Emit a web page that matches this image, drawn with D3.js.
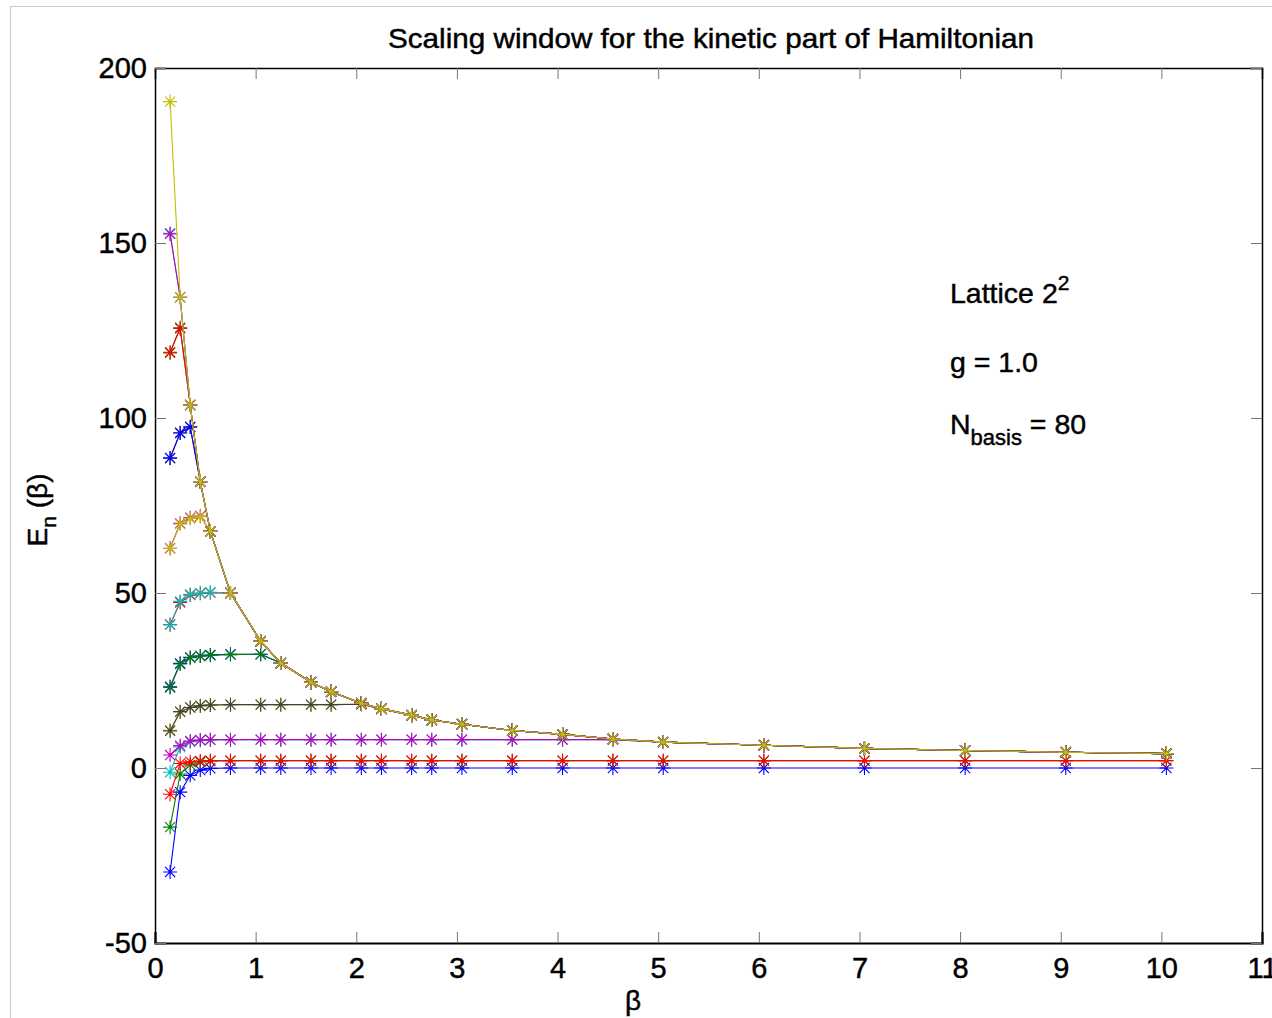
<!DOCTYPE html>
<html lang="en">
<head>
  <meta charset="utf-8">
  <title>Scaling window</title>
  <script src="https://d3js.org/d3.v7.min.js"></script>
  <style>
    body { margin: 0; background: #fff; }
    text { font-family: "Liberation Sans", Arial, Helvetica, sans-serif; fill: #000; stroke: #000; stroke-width: 0.45px; }
  </style>
</head>
<body>
<svg id="chart" width="1272" height="1018"></svg>
<script>
// beta grid (x values)
var beta = [0.15, 0.25, 0.35, 0.45, 0.55, 0.75, 1.05, 1.25, 1.55, 1.75, 2.05, 2.25,
            2.55, 2.75, 3.05, 3.55, 4.05, 4.55, 5.05, 6.05, 7.05, 8.05, 9.05, 10.05];

// the window edge: every level above it sits on it
var cutoff = [190.4, 134.5, 103.7, 81.8, 67.6, 50.0, 36.2, 30.0, 24.5, 21.8, 18.5, 16.9,
              15.1, 13.7, 12.5, 10.7, 9.6, 8.3, 7.4, 6.5, 5.6, 5.0, 4.5, 4.1];

// own values of each level; after the last one it follows cutoff
var levels = [
  [-29.7, -6.9, -2.1, -0.6, -0.1, 0, 0, 0, 0, 0, 0, 0, 0, 0, 0, 0, 0, 0, 0, 0, 0, 0, 0, 0],
  [-16.9, -1.7, 0.9, 1.7, 2.0, 2.1, 2.1, 2.1, 2.1, 2.1, 2.1, 2.1, 2.1, 2.1, 2.1, 2.1, 2.1, 2.1, 2.1, 2.1, 2.1, 2.1, 2.1, 2.1],
  [-7.5, 1.3, 1.8, 2.0, 2.1, 2.1, 2.1, 2.1, 2.1, 2.1, 2.1, 2.1, 2.1, 2.1, 2.1, 2.1, 2.1, 2.1, 2.1, 2.1, 2.1, 2.1, 2.1, 2.1],
  [-1.2, 6.0, 7.5, 7.9, 8.0, 8.1, 8.1, 8.1, 8.1, 8.1, 8.1, 8.1, 8.1, 8.1, 8.1, 8.1, 8.1, 8.1],
  [3.7, 6.4, 7.7, 8.0, 8.1, 8.1, 8.1, 8.1, 8.1, 8.1, 8.1, 8.1, 8.1, 8.1, 8.1, 8.1, 8.1, 8.1],
  [10.8, 16.0, 17.3, 17.7, 18.0, 18.1, 18.1, 18.1, 18.1, 18.1, 18.2],
  [10.6, 16.1, 17.3, 17.8, 18.0, 18.1, 18.1, 18.1, 18.1, 18.1, 18.2],
  [23.2, 29.9, 31.6, 32.0, 32.3, 32.5, 32.5],
  [23.0, 29.7, 31.5, 32.0, 32.2, 32.4, 32.5],
  [41.0, 47.3, 49.4, 49.9, 50.1],
  [40.9, 47.6, 49.6, 50.0, 50.2],
  [62.8, 69.9, 71.5, 72.0],
  [62.7, 69.7, 71.3, 71.8],
  [88.5, 95.8, 97.5],
  [88.6, 95.7, 97.4],
  [118.6, 125.8],
  [118.8, 125.6],
  [152.8],
  [152.6],
  [190.4]
];

// old matlab colour order
var colors = ["#0000ff", "#008000", "#ff0000", "#00bfbf", "#bf00bf", "#bfbf00", "#404040"];

var xTicks = [0, 1, 2, 3, 4, 5, 6, 7, 8, 9, 10, 11];
var yTicks = [-50, 0, 50, 100, 150, 200];

var svg = d3.select("#chart");

// figure border
svg.append("rect")
  .attr("x", 10.5).attr("y", 6.5)
  .attr("width", 1300).attr("height", 1040)
  .attr("fill", "none").attr("stroke", "#c8c8c8");

var margin = {left: 155, right: 1262, top: 68, bottom: 943};

var x = d3.scaleLinear().domain([0, 11]).range([margin.left, margin.right]);
var y = d3.scaleLinear().domain([-50, 200]).range([margin.bottom, margin.top]);

// data lines + asterisks
var line = d3.line()
  .x(function(d) { return x(d[0]); })
  .y(function(d) { return y(d[1]); });

var plot = svg.append("g");
var r = 7;
levels.forEach(function(own, i) {
  var pts = beta.map(function(b, j) {
    return [b, j < own.length ? own[j] : cutoff[j]];
  });
  var c = colors[i % colors.length];
  plot.append("path")
    .datum(pts)
    .attr("fill", "none")
    .attr("stroke", c)
    .attr("stroke-width", 1.1)
    .attr("d", line);
  var g = plot.append("g");
  pts.forEach(function(p) {
    var cx = x(p[0]), cy = y(p[1]);
    var d = "M" + (cx - r) + "," + cy + "H" + (cx + r) +
            "M" + cx + "," + (cy - r) + "V" + (cy + r) +
            "M" + (cx - r * 0.72) + "," + (cy - r * 0.72) + "L" + (cx + r * 0.72) + "," + (cy + r * 0.72) +
            "M" + (cx - r * 0.72) + "," + (cy + r * 0.72) + "L" + (cx + r * 0.72) + "," + (cy - r * 0.72);
    g.append("path").attr("d", d).attr("stroke", c).attr("stroke-width", 1.1).attr("fill", "none");
  });
});

// axes box with inner ticks
var fmt = function(d) { return String(d); };   // plain hyphen for -50
var xAxis = svg.append("g")
  .attr("transform", "translate(0," + margin.bottom + ")")
  .call(d3.axisBottom(x).tickValues(xTicks).tickSize(-11).tickFormat(fmt));
var xAxisTop = svg.append("g")
  .attr("transform", "translate(0," + margin.top + ")")
  .call(d3.axisTop(x).tickValues(xTicks).tickSize(-11).tickFormat(""));
var yAxis = svg.append("g")
  .attr("transform", "translate(" + margin.left + ",0)")
  .call(d3.axisLeft(y).tickValues(yTicks).tickSize(-11).tickPadding(8).tickFormat(fmt));
var yAxisRight = svg.append("g")
  .attr("transform", "translate(" + margin.right + ",0)")
  .call(d3.axisRight(y).tickValues(yTicks).tickSize(-11).tickFormat(""));

[xAxis, xAxisTop, yAxis, yAxisRight].forEach(function(a) {
  a.select(".domain").attr("stroke", "#000").attr("stroke-width", 1.5);
  a.selectAll(".tick line").attr("stroke", "#777").attr("stroke-width", 1);
  a.selectAll(".tick text").attr("font-size", 29).attr("font-family", "Liberation Sans, Arial, sans-serif").attr("fill", "#000");
});
xAxis.select(".domain").attr("stroke-width", 2.2);
xAxis.selectAll(".tick text").attr("dy", "0.35em").attr("y", 25);

// title and labels
svg.append("text")
  .attr("x", 711).attr("y", 48)
  .attr("text-anchor", "middle")
  .attr("font-size", 28)
  .attr("textLength", 646).attr("lengthAdjust", "spacingAndGlyphs")
  .text("Scaling window for the kinetic part of Hamiltonian");

svg.append("text")
  .attr("x", 633).attr("y", 1010)
  .attr("text-anchor", "middle")
  .attr("font-size", 28)
  .text("β");

var yl = svg.append("text")
  .attr("transform", "translate(47,510) rotate(-90)")
  .attr("text-anchor", "middle")
  .attr("font-size", 28);
yl.append("tspan").text("E");
yl.append("tspan").attr("dy", 9).attr("font-size", 21).text("n");
yl.append("tspan").attr("dy", -9).text(" (β)");

// annotation
var t1 = svg.append("text").attr("x", 950).attr("y", 303).attr("font-size", 28.5);
t1.append("tspan").text("Lattice 2");
t1.append("tspan").attr("dy", -13).attr("font-size", 21).text("2");

svg.append("text").attr("x", 950).attr("y", 372).attr("font-size", 28.5).text("g = 1.0");

var t3 = svg.append("text").attr("x", 950).attr("y", 434).attr("font-size", 28.5);
t3.append("tspan").text("N");
t3.append("tspan").attr("dy", 11).attr("font-size", 22).text("basis");
t3.append("tspan").attr("dy", -11).text(" = 80");
</script>
</body>
</html>
